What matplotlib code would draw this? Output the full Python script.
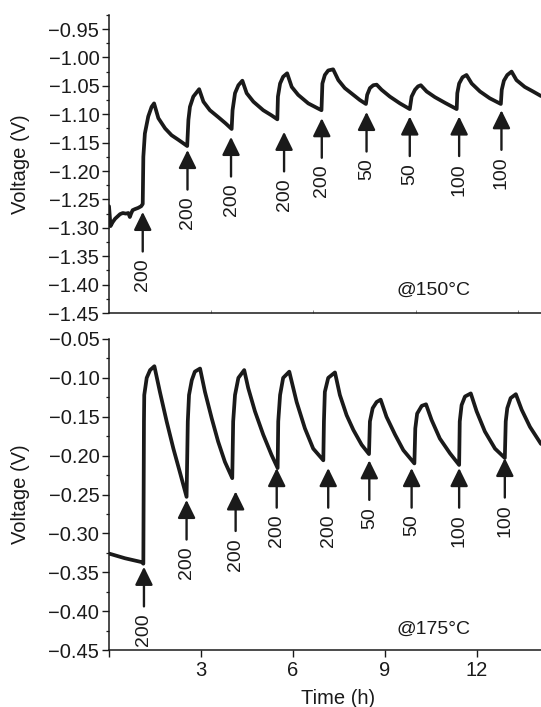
import matplotlib
matplotlib.use("Agg")
import matplotlib.pyplot as plt
from matplotlib.ticker import MultipleLocator, FixedLocator
from matplotlib.patches import ArrowStyle

plt.rcParams['font.family'] = ['Liberation Sans', 'DejaVu Sans']

# ---------------- data: 150 °C ----------------
t150 = [0.00, 0.05, 0.12, 0.20, 0.30, 0.36, 0.45, 0.55, 0.63, 0.68, 0.72, 0.77, 0.85, 0.95, 1.05, 1.10,
        1.12, 1.17, 1.28, 1.39, 1.47,
        1.61, 1.83, 2.04, 2.26, 2.55,
        2.59, 2.64, 2.75, 2.94,
        3.08, 3.29, 3.56, 3.80, 4.00,
        4.03, 4.11, 4.22, 4.35,
        4.49, 4.71, 5.03, 5.30, 5.49,
        5.51, 5.58, 5.68, 5.81,
        5.96, 6.17, 6.50, 6.82, 6.93,
        6.96, 7.04, 7.15, 7.31,
        7.48, 7.69, 7.97, 8.18, 8.38,
        8.42, 8.51, 8.62, 8.73,
        8.89, 9.16, 9.49, 9.81,
        9.87, 9.98, 10.08, 10.17,
        10.36, 10.63, 10.96, 11.34,
        11.36, 11.42, 11.53, 11.66,
        11.83, 12.10, 12.42, 12.78,
        12.81, 12.88, 12.99, 13.13,
        13.29, 13.56, 13.83, 14.09]
v150 = [-1.262, -1.297, -1.290, -1.284, -1.279, -1.276, -1.274, -1.275, -1.274, -1.281, -1.275, -1.269, -1.267, -1.265, -1.262, -1.258,
        -1.175, -1.134, -1.104, -1.087, -1.081,
        -1.107, -1.125, -1.137, -1.145, -1.156,
        -1.110, -1.087, -1.069, -1.056,
        -1.078, -1.093, -1.105, -1.116, -1.126,
        -1.093, -1.063, -1.049, -1.041,
        -1.063, -1.078, -1.093, -1.102, -1.109,
        -1.069, -1.046, -1.034, -1.028,
        -1.052, -1.066, -1.081, -1.090, -1.093,
        -1.046, -1.031, -1.023, -1.021,
        -1.040, -1.054, -1.066, -1.075, -1.082,
        -1.066, -1.054, -1.049, -1.048,
        -1.057, -1.069, -1.081, -1.091,
        -1.069, -1.057, -1.051, -1.049,
        -1.060, -1.070, -1.080, -1.091,
        -1.063, -1.046, -1.035, -1.031,
        -1.046, -1.060, -1.072, -1.082,
        -1.057, -1.041, -1.031, -1.025,
        -1.040, -1.052, -1.060, -1.068]

# ---------------- data: 175 °C ----------------
t175 = [0.00, 0.09, 0.52, 1.07, 1.12,
        1.14, 1.15, 1.23, 1.34, 1.48,
        1.66, 1.88, 2.10, 2.31, 2.53,
        2.57, 2.61, 2.70, 2.80, 2.97,
        3.13, 3.35, 3.56, 3.78, 4.02,
        4.05, 4.11, 4.22, 4.41,
        4.54, 4.76, 5.03, 5.30, 5.50,
        5.52, 5.58, 5.68, 5.88,
        6.12, 6.39, 6.66, 6.99,
        7.01, 7.04, 7.15, 7.37,
        7.53, 7.75, 7.97, 8.24, 8.48,
        8.51, 8.60, 8.73, 8.86,
        9.05, 9.33, 9.60, 9.96,
        9.99, 10.05, 10.20, 10.34,
        10.52, 10.79, 11.12, 11.42,
        11.44, 11.50, 11.61, 11.80,
        11.99, 12.26, 12.59, 12.91,
        12.94, 12.99, 13.10, 13.27,
        13.46, 13.73, 14.09]
v175 = [-0.326, -0.327, -0.332, -0.337, -0.339,
        -0.156, -0.122, -0.100, -0.090, -0.085,
        -0.118, -0.156, -0.191, -0.221, -0.253,
        -0.156, -0.122, -0.103, -0.092, -0.088,
        -0.118, -0.152, -0.182, -0.208, -0.229,
        -0.156, -0.122, -0.100, -0.090,
        -0.113, -0.143, -0.173, -0.199, -0.216,
        -0.156, -0.122, -0.100, -0.092,
        -0.131, -0.165, -0.191, -0.206,
        -0.156, -0.118, -0.100, -0.093,
        -0.122, -0.148, -0.167, -0.186, -0.198,
        -0.156, -0.139, -0.131, -0.128,
        -0.150, -0.173, -0.193, -0.210,
        -0.165, -0.146, -0.136, -0.134,
        -0.154, -0.178, -0.197, -0.212,
        -0.156, -0.135, -0.124, -0.120,
        -0.143, -0.169, -0.191, -0.203,
        -0.156, -0.139, -0.126, -0.121,
        -0.141, -0.163, -0.185]

# ---------------- annotations (dose arrows) ----------------
dose_labels = ['200', '200', '200', '200', '200', '50', '50', '100', '100']
arrow_t150 = [1.10, 2.56, 3.98, 5.71, 6.94, 8.40, 9.81, 11.42, 12.80]
arrow_v150 = [-1.272, -1.163, -1.140, -1.131, -1.107, -1.096, -1.104, -1.104, -1.093]
arrow_t175 = [1.14, 2.53, 4.13, 5.47, 7.15, 8.49, 9.87, 11.42, 12.91]
arrow_v175 = [-0.343, -0.257, -0.246, -0.216, -0.216, -0.206, -0.216, -0.216, -0.203]

xticks_bottom = [0, 3, 6, 9, 12]
xticklabels_bottom = ['', '3', '6', '9', '12']

W, H = 541, 707
fig = plt.figure(figsize=(W / 100, H / 100), dpi=100)
fig.patch.set_facecolor('white')

ink = '#1a1a1a'
fs = 14.5
fs_ann = 14

def px_axes(x0, y0, x1, y1):
    return fig.add_axes([x0 / W, 1 - y1 / H, (x1 - x0) / W, (y1 - y0) / H])

ax1 = px_axes(109, 14.8, 541, 313)
ax2 = px_axes(109, 339, 541, 650)

arrow_style = ArrowStyle('-|>', head_length=0.55, head_width=0.27)

for ax, t, v, at, av, ylim, temp in [
        (ax1, t150, v150, arrow_t150, arrow_v150, (-1.45, -0.925), '@150°C'),
        (ax2, t175, v175, arrow_t175, arrow_v175, (-0.45, -0.05), '@175°C')]:
    ax.plot(t, v, color=ink, lw=2.7, solid_joinstyle='round', solid_capstyle='round')
    ax.set_xlim(0, 14.09)
    ax.set_ylim(*ylim)
    for s in ['top', 'right']:
        ax.spines[s].set_visible(False)
    for s in ['left', 'bottom']:
        ax.spines[s].set_linewidth(1.1)
        ax.spines[s].set_color(ink)
    ax.yaxis.set_major_locator(MultipleLocator(0.05))
    ax.yaxis.set_minor_locator(MultipleLocator(0.025))
    ax.yaxis.set_major_formatter(plt.FuncFormatter(lambda val, pos: ('%.2f' % val).replace('-', '\u2212')))
    ax.tick_params(axis='y', which='major', direction='out', length=5, width=1.0,
                   labelsize=fs, colors=ink, pad=2)
    ax.tick_params(axis='y', which='minor', direction='out', length=2.5, width=0.9, colors=ink)
    ax.set_ylabel('Voltage (V)', fontsize=fs, color=ink)
    ax.yaxis.set_label_coords(-(109 - 30) / 432, 0.5)
    for ti, vi, lab in zip(at, av, dose_labels):
        ax.annotate('', xy=(ti, vi), xycoords='data',
                    xytext=(0, -28.5), textcoords='offset points',
                    arrowprops=dict(arrowstyle=arrow_style, mutation_scale=20,
                                    color=ink, lw=1.7, shrinkA=0, shrinkB=0))
        ax.annotate(lab, xy=(ti, vi), xycoords='data',
                    xytext=(0, -33.5), textcoords='offset points',
                    rotation=90, ha='center', va='top', fontsize=fs_ann, color=ink)
    ax.text(0.75, 0.075 if ax is ax1 else 0.065, temp, transform=ax.transAxes,
            fontsize=fs_ann, color=ink, ha='center', va='center')

# top panel: tiny inward ticks without labels
ax1.xaxis.set_major_locator(FixedLocator([10 / 3, 20 / 3, 10, 40 / 3]))
ax1.tick_params(axis='x', which='major', direction='in', length=2, width=0.6,
                colors='#777777', labelbottom=False)

# bottom panel x axis
ax2.set_xticks(xticks_bottom)
ax2.set_xticklabels(xticklabels_bottom)
ax2.tick_params(axis='x', which='major', direction='out', length=5, width=1.0,
                labelsize=fs, colors=ink, pad=3)
ax2.set_xlabel('Time (h)', fontsize=fs, color=ink)
ax2.xaxis.set_label_coords((338 - 109) / 432, -0.125)

fig.savefig('out.png', dpi=100, facecolor='white')
